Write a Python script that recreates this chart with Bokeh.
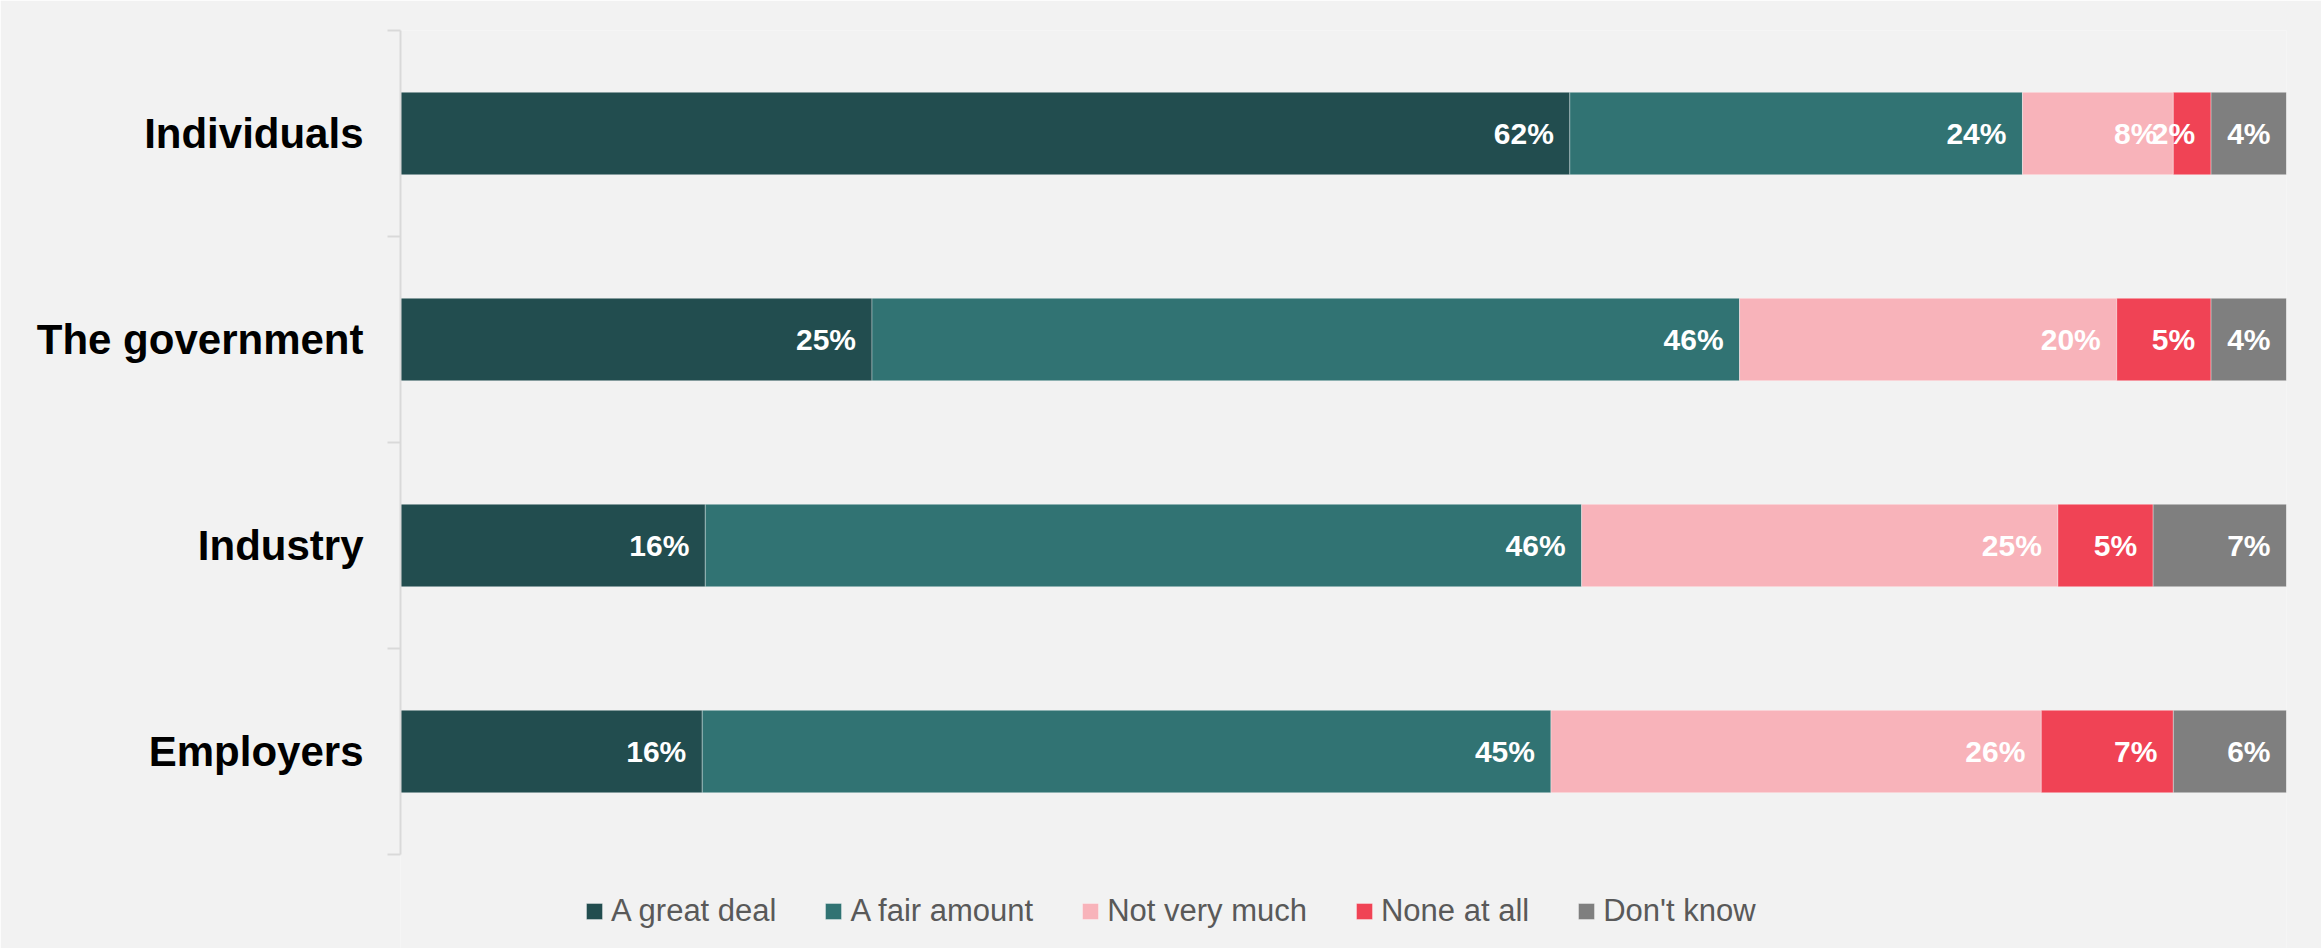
from bokeh.plotting import figure
from bokeh.models import ColumnDataSource, FixedTicker, Legend, LegendItem, Range1d
from bokeh.embed import file_html
from bokeh.resources import INLINE
from bokeh.core.properties import value

categories = ["Individuals", "The government", "Industry", "Employers"]
series = ["A great deal", "A fair amount", "Not very much", "None at all", "Don't know"]
great_deal = [62, 25, 16, 16]
fair_amount = [24, 46, 46, 45]
not_very_much = [8, 20, 25, 26]
none_at_all = [2, 5, 5, 7]
dont_know = [4, 4, 7, 6]
colors = ["#224d4f", "#317373", "#f8b3ba", "#f04355", "#7f7f7f"]

values = [great_deal, fair_amount, not_very_much, none_at_all, dont_know]
n = len(categories)
ypos = [n - i - 0.5 for i in range(n)]  # top to bottom
totals = [sum(v[i] for v in values) for i in range(n)]

FONT = "Liberation Sans"

# frame spans from top border to the bottom of the page; the extra space
# below the categories (94 px of 206 px per category) holds the legend
p = figure(width=2321, height=948, x_range=Range1d(0, 1),
           y_range=Range1d(-94 / 206, n),
           x_axis_location=None, output_backend="svg", toolbar_location=None,
           min_border_left=400, min_border_right=35, min_border_top=30,
           min_border_bottom=0)
p.background_fill_color = "#f2f2f2"
p.border_fill_color = "#f2f2f2"
p.outline_line_color = None
p.xgrid.visible = False
p.ygrid.visible = False

cum = [0.0] * n
renderers = []
for s, vals, col in zip(series, values, colors):
    left = [cum[i] / totals[i] for i in range(n)]
    right = [(cum[i] + vals[i]) / totals[i] for i in range(n)]
    cum = [cum[i] + vals[i] for i in range(n)]
    src = ColumnDataSource(dict(y=ypos, left=left, right=right,
                                label=[f"{v}%" for v in vals]))
    r = p.hbar(y="y", left="left", right="right", height=0.4, source=src,
               fill_color=col, line_color="#ffffff", line_alpha=0.35, line_width=1)
    renderers.append(r)
    p.text(x="right", y="y", text="label", source=src, x_offset=-16,
           text_align="right", text_baseline="middle", text_color="white",
           text_font=value(FONT), text_font_style="bold", text_font_size="30px")

yax = p.yaxis[0]
yax.bounds = (0, n)
yax.ticker = FixedTicker(ticks=ypos, minor_ticks=[float(i) for i in range(n + 1)])
yax.major_label_overrides = {y: c for y, c in zip(ypos, categories)}
yax.major_tick_out = 0
yax.major_tick_in = 0
yax.minor_tick_out = 13
yax.minor_tick_in = 0
yax.minor_tick_line_color = "#d9d9d9"
yax.minor_tick_line_width = 2
yax.axis_line_color = "#d9d9d9"
yax.axis_line_width = 2
yax.major_label_text_font = FONT
yax.major_label_text_font_size = "42px"
yax.major_label_text_font_style = "bold"
yax.major_label_text_color = "black"
yax.major_label_standoff = 24

legend = Legend(items=[LegendItem(label=s, renderers=[r]) for s, r in zip(series, renderers)],
                orientation="horizontal", location=(184, 19),
                glyph_width=20, glyph_height=20, label_standoff=7, spacing=47,
                padding=0, margin=0, label_text_font=FONT, label_text_font_size="31px",
                label_text_color="#595959", background_fill_alpha=0, border_line_alpha=0)
p.add_layout(legend, "center")

open("out.html", "w").write(file_html(p, INLINE))
